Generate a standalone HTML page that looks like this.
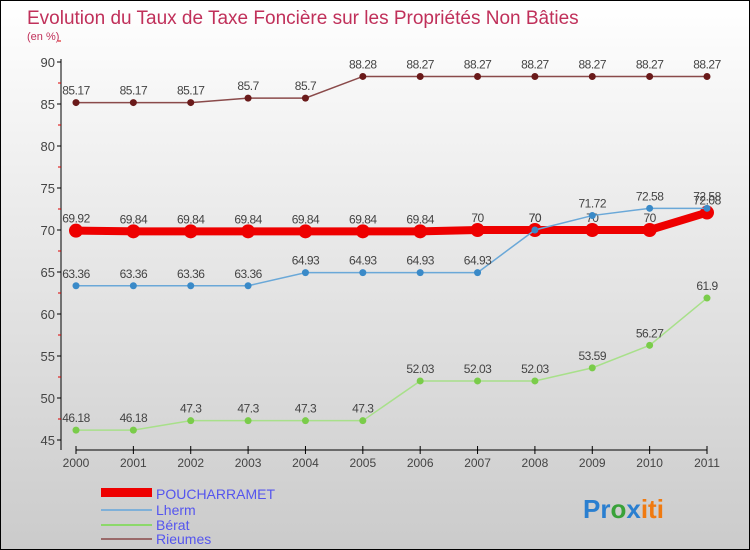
<!DOCTYPE html>
<html><head><meta charset="utf-8"><style>
body{margin:0}
#c{width:748px;height:548px;border:1px solid #000;background:linear-gradient(#fff,#cbcbcb);position:relative;font-family:"Liberation Sans",sans-serif;overflow:hidden}
</style></head><body>
<div id="c">
<svg id="s" width="748" height="548">
<text x="26" y="23" font-size="19" fill="#c0305a">Evolution du Taux de Taxe Foncière sur les Propriétés Non Bâties</text>
<text x="26" y="39" font-size="11" fill="#c0305a">(en %)</text>
<g id="axes"></g><g id="series"></g>
<g>
<rect x="100" y="487" width="51" height="9" fill="#e00"/>
<text x="155" y="498" font-size="14" fill="#5555ee">POUCHARRAMET</text>
<rect x="100" y="508" width="51" height="2" fill="#7fb0d8"/>
<text x="155" y="514" font-size="14" fill="#5555ee">Lherm</text>
<rect x="100" y="523" width="51" height="2" fill="#8cd86a"/>
<text x="155" y="529" font-size="14" fill="#5555ee">Bérat</text>
<rect x="100" y="537" width="51" height="2" fill="#9a6a6a"/>
<text x="155" y="543" font-size="14" fill="#5555ee">Rieumes</text>
</g>
<text x="582" y="517" font-size="26" font-weight="bold"><tspan fill="#2a7fd0">Pr</tspan><tspan fill="#3aa23a">o</tspan><tspan fill="#2a7fd0">x</tspan><tspan fill="#f07a10">iti</tspan></text>
</svg></div>
<script>
const years=[2000,2001,2002,2003,2004,2005,2006,2007,2008,2009,2010,2011];
const yTicks=[45,50,55,60,65,70,75,80,85,90];
const poucharramet=[69.92,69.84,69.84,69.84,69.84,69.84,69.84,70,70,70,70,72.08];
const lherm=[63.36,63.36,63.36,63.36,64.93,64.93,64.93,64.93,70,71.72,72.58,72.58];
const berat=[46.18,46.18,47.3,47.3,47.3,47.3,52.03,52.03,52.03,53.59,56.27,61.9];
const rieumes=[85.17,85.17,85.17,85.7,85.7,88.28,88.27,88.27,88.27,88.27,88.27,88.27];
const NS="http://www.w3.org/2000/svg";
const X=i=>75+i*(631/11);
const Y=v=>439-(v-45)*8.4;
function mk(t,a,p){const e=document.createElementNS(NS,t);for(const k in a)e.setAttribute(k,a[k]);p.appendChild(e);return e;}
const ax=document.getElementById('axes');
let l=mk('line',{x1:60,y1:58,x2:60,y2:449,stroke:'#000'},ax);


l=mk('line',{x1:75,y1:449,x2:706,y2:449,stroke:'#000'},ax);


yTicks.forEach(v=>{mk('line',{x1:56,y1:Y(v),x2:60,y2:Y(v),stroke:'#000'},ax);
const t=mk('text',{x:54,y:Y(v)+5,'font-size':13,fill:'#444','text-anchor':'end'},ax);t.textContent=v;


mk('line',{x1:57,y1:Y(v+2.5),x2:60,y2:Y(v+2.5),stroke:'#d00'},ax);});
years.forEach((y,i)=>{mk('line',{x1:X(i),y1:445,x2:X(i),y2:453,stroke:'#000'},ax);
const t=mk('text',{x:X(i),y:466,'font-size':12,fill:'#444','text-anchor':'middle'},ax);t.textContent=y;

});
const sg=document.getElementById('series');
function draw(name,data,col,dot,w,r){
const g=mk('g',{},sg);


const p=mk('polyline',{points:data.map((v,i)=>X(i)+','+Y(v)).join(' '),fill:'none',stroke:col,'stroke-width':w},g);


data.forEach((v,i)=>{const c=mk('circle',{cx:X(i),cy:Y(v),r:r,fill:dot},g);


const t=mk('text',{x:X(i),y:Y(v)-8,'font-size':12,fill:'#444','text-anchor':'middle','letter-spacing':'-0.5'},g);t.textContent=v;

});}
draw('rieumes',rieumes,'#8a4a4a','#6a1a1a',1.5,3.5);
draw('berat',berat,'#a8e08a','#7acc4a',1.5,3.5);
draw('poucharramet',poucharramet,'#e00','#e00',8,7);
draw('lherm',lherm,'#6aa8d8','#3a8ac8',1.5,3.5);
</script>
</body></html>
